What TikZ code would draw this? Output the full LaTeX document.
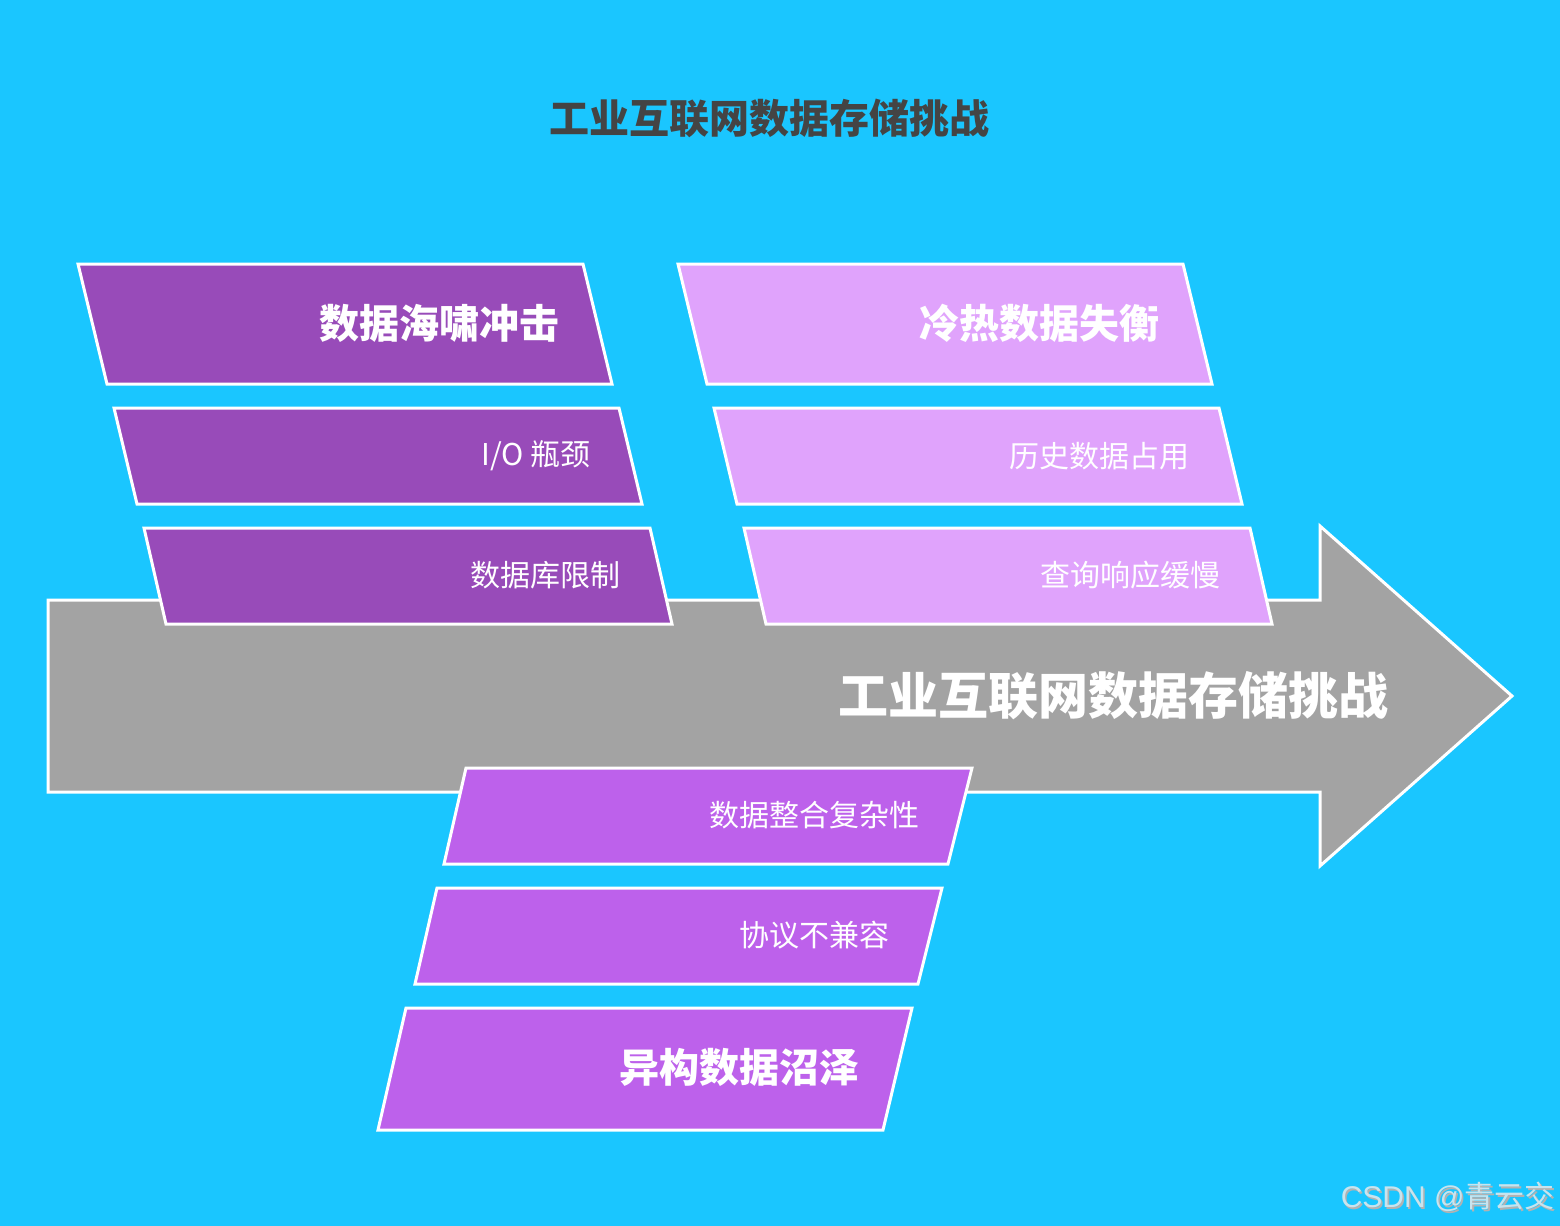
\documentclass[tikz,border=0pt]{standalone}
\usepackage{fontspec}
\newfontfamily\cjk{Noto Sans CJK SC}
\newfontfamily\lat{Liberation Sans}
\definecolor{bgblue}{HTML}{1AC6FF}
\definecolor{arrowgray}{HTML}{A3A3A3}
\definecolor{darkpurple}{HTML}{984BB9}
\definecolor{lightpurple}{HTML}{E0A3FC}
\definecolor{midpurple}{HTML}{BD61EB}
\definecolor{titlegray}{HTML}{444444}
\definecolor{wmark}{HTML}{C8E4EE}
\tikzset{
  shapeline/.style={draw=white, line width=1.5pt, line join=miter},
  bigtxt/.style={anchor=east, inner sep=0pt, text=white, font=\cjk\bfseries\fontsize{20pt}{24pt}\selectfont},
  smalltxt/.style={anchor=east, inner sep=0pt, text=white, font=\cjk\fontsize{15pt}{18pt}\selectfont},
}
\begin{document}
\begin{tikzpicture}[x=0.5pt,y=-0.5pt]
\fill[bgblue] (0,0) rectangle (1560,1226);
\useasboundingbox (0,0) rectangle (1560,1226);
% title
\node[anchor=center, inner sep=0pt, text=titlegray, font=\cjk\bfseries\fontsize{20pt}{24pt}\selectfont] (title) at (769,118) {工业互联网数据存储挑战};
% arrow
\path[shapeline, fill=arrowgray] (48,600) -- (1320,600) -- (1320,526) -- (1512,696) -- (1320,866) -- (1320,792) -- (48,792) -- cycle;
\node[anchor=east, inner sep=0pt, text=white, font=\cjk\bfseries\fontsize{25pt}{30pt}\selectfont] (spine) at (1389,696) {工业互联网数据存储挑战};
% top-left boxes
\path[shapeline, fill=darkpurple] (78,264) -- (583,264) -- (612,384) -- (107,384) -- cycle;
\node[bigtxt] (a1) at (560,323) {数据海啸冲击};
\path[shapeline, fill=darkpurple] (114,408) -- (619,408) -- (642,504) -- (137,504) -- cycle;
\node[smalltxt] (a2) at (591,456) {I/O 瓶颈};
\path[shapeline, fill=darkpurple] (144,528) -- (650,528) -- (672,624) -- (166,624) -- cycle;
\node[smalltxt] (a3) at (621,575) {数据库限制};
% top-right boxes
\path[shapeline, fill=lightpurple] (678,264) -- (1183,264) -- (1212,384) -- (707,384) -- cycle;
\node[bigtxt] (b1) at (1160,323) {冷热数据失衡};
\path[shapeline, fill=lightpurple] (714,408) -- (1219,408) -- (1242,504) -- (737,504) -- cycle;
\node[smalltxt] (b2) at (1190,456) {历史数据占用};
\path[shapeline, fill=lightpurple] (744,528) -- (1250,528) -- (1272,624) -- (766,624) -- cycle;
\node[smalltxt] (b3) at (1221,575) {查询响应缓慢};
% bottom boxes
\path[shapeline, fill=midpurple] (466,768) -- (972,768) -- (948,864) -- (444,864) -- cycle;
\node[smalltxt] (c1) at (920,815) {数据整合复杂性};
\path[shapeline, fill=midpurple] (437,888) -- (942,888) -- (918,984) -- (415,984) -- cycle;
\node[smalltxt] (c2) at (890,935) {协议不兼容};
\path[shapeline, fill=midpurple] (406,1008) -- (912,1008) -- (883,1130) -- (378,1130) -- cycle;
\node[bigtxt] (c3) at (860,1067) {异构数据沼泽};
% watermark
\node[anchor=east, inner sep=0pt, text=gray!60, font=\cjk\fontsize{15pt}{18pt}\selectfont] (wmshadow) at (1556.6,1198.6) {{\lat CSDN @}青云交};
\node[anchor=east, inner sep=0pt, text=wmark, font=\cjk\fontsize{15pt}{18pt}\selectfont] (wm) at (1555,1197) {{\lat CSDN @}青云交};
\end{tikzpicture}
\end{document}
